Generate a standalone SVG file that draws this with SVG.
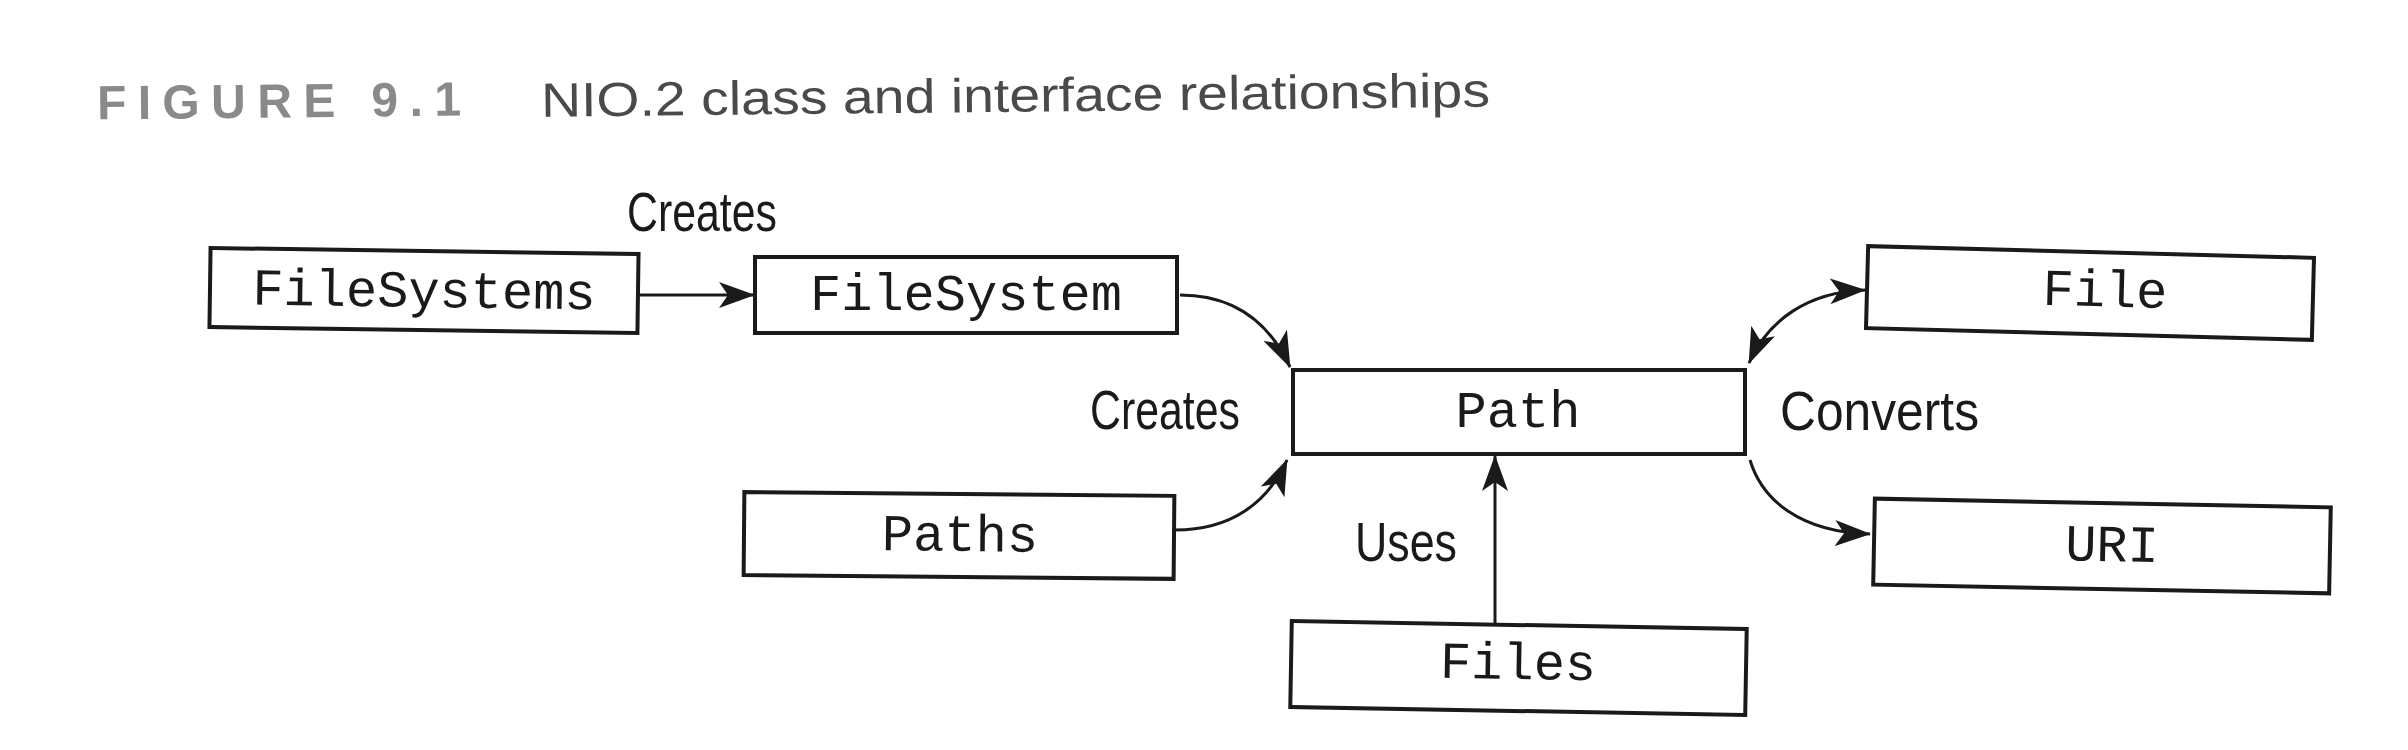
<svg xmlns="http://www.w3.org/2000/svg" width="2408" height="750" viewBox="0 0 2408 750">
<style>
.box{fill:#fff;stroke:#1a1a1a;stroke-width:4}
.mono{font-family:"Liberation Mono","Courier New",monospace;font-size:52px;fill:#1a1a1a;text-anchor:middle}
.lbl{font-family:"Liberation Sans",Arial,sans-serif;font-size:56px;fill:#1a1a1a}
.conn{fill:none;stroke:#1a1a1a;stroke-width:3}
</style>
<defs>
<marker id="ah" viewBox="0 0 36 26" refX="35" refY="13" markerWidth="36" markerHeight="26" markerUnits="userSpaceOnUse" orient="auto-start-reverse">
<path d="M0,0 L36,13 L0,26 L9,13 Z" fill="#1a1a1a"/>
</marker>
</defs>
<rect width="2408" height="750" fill="#fff"/>
<g id="title" transform="rotate(-0.6 800 100)">
<text x="97" y="112" font-family="Liberation Sans,Arial,sans-serif" font-size="48" font-weight="bold" fill="#8a8a8a" textLength="364" lengthAdjust="spacing">FIGURE 9.1</text>
<text x="541" y="114" font-family="Liberation Sans,Arial,sans-serif" font-size="48" fill="#4a4a4a" textLength="949" lengthAdjust="spacingAndGlyphs">NIO.2 class and interface relationships</text>
</g>
<g id="connectors">
<line class="conn" x1="638" y1="295" x2="754" y2="295" marker-end="url(#ah)"/>
<path class="conn" d="M1180,295 C1232,295 1268,320 1290,367" marker-end="url(#ah)"/>
<path class="conn" d="M1175,530 C1232,530 1268,502 1287,460" marker-end="url(#ah)"/>
<line class="conn" x1="1495" y1="624" x2="1495" y2="456" marker-end="url(#ah)"/>
<path class="conn" d="M1749,363 C1768,320 1808,292 1865,290" marker-start="url(#ah)" marker-end="url(#ah)"/>
<path class="conn" d="M1750,460 C1762,500 1800,532 1870,534" marker-end="url(#ah)"/>
</g>
<g id="label-creates-top"><text class="lbl" x="627" y="231" textLength="150" lengthAdjust="spacingAndGlyphs">Creates</text></g>
<g id="label-creates-mid"><text class="lbl" x="1090" y="429" textLength="150" lengthAdjust="spacingAndGlyphs">Creates</text></g>
<g id="label-converts"><text class="lbl" x="1780" y="430" textLength="199" lengthAdjust="spacingAndGlyphs">Converts</text></g>
<g id="label-uses"><text class="lbl" x="1355" y="561" textLength="102" lengthAdjust="spacingAndGlyphs">Uses</text></g>
<g id="node-filesystems" transform="rotate(0.8 424 290)">
<rect class="box" x="210" y="251" width="428" height="79"/>
<text class="mono" x="424" y="307">FileSystems</text>
</g>
<g id="node-filesystem">
<rect class="box" x="755" y="257" width="422" height="76"/>
<text class="mono" x="966" y="310">FileSystem</text>
</g>
<g id="node-path">
<rect class="box" x="1293" y="370" width="452" height="84"/>
<text class="mono" x="1518" y="427">Path</text>
</g>
<g id="node-file" transform="rotate(1.5 2090 293)">
<rect class="box" x="1867" y="252" width="446" height="82"/>
<text class="mono" x="2105" y="306">File</text>
</g>
<g id="node-uri" transform="rotate(1.1 2102 546)">
<rect class="box" x="1874" y="503" width="456" height="86"/>
<text class="mono" x="2112" y="561">URI</text>
</g>
<g id="node-paths" transform="rotate(0.5 959 535)">
<rect class="box" x="744" y="494" width="430" height="83"/>
<text class="mono" x="960" y="551">Paths</text>
</g>
<g id="node-files" transform="rotate(1 1518 668)">
<rect class="box" x="1291" y="625" width="455" height="86"/>
<text class="mono" x="1518" y="679">Files</text>
</g>
</svg>
